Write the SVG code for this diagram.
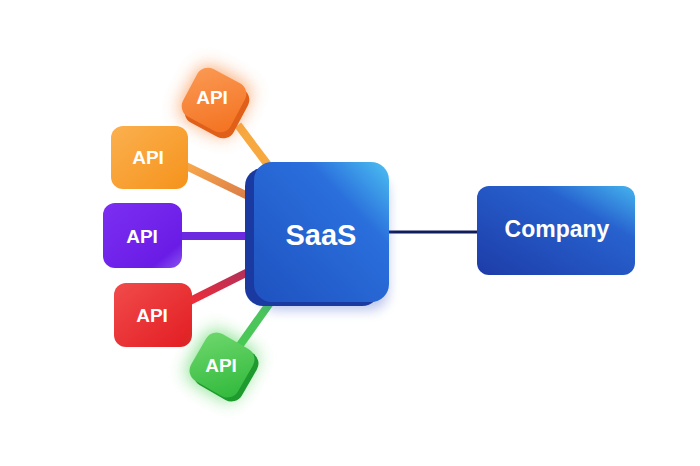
<svg xmlns="http://www.w3.org/2000/svg" width="700" height="466" viewBox="0 0 700 466">
  <defs>
    <style>
      .lbl { font-family: "Liberation Sans", Arial, sans-serif; font-weight: bold; fill: #ffffff; text-anchor: middle; dominant-baseline: central; }
      .api { font-size: 19px; }
      .conn { fill: none; stroke-linecap: butt; }
    </style>
    <linearGradient id="gOrange" x1="0" y1="0" x2="1" y2="1">
      <stop offset="0" stop-color="#fbb04f"/>
      <stop offset="1" stop-color="#f5931c"/>
    </linearGradient>
    <linearGradient id="gOrange2" x1="0" y1="0" x2="1" y2="1">
      <stop offset="0" stop-color="#fb9a55"/>
      <stop offset="1" stop-color="#f3711f"/>
    </linearGradient>
    <linearGradient id="gPurple" x1="0" y1="0" x2="1" y2="1">
      <stop offset="0" stop-color="#7c2ff2"/>
      <stop offset="0.8" stop-color="#6a1ce6"/>
      <stop offset="1" stop-color="#8a55f0"/>
    </linearGradient>
    <linearGradient id="gRed" x1="0" y1="0" x2="1" y2="1">
      <stop offset="0" stop-color="#f14b4b"/>
      <stop offset="1" stop-color="#e21d22"/>
    </linearGradient>
    <linearGradient id="gGreen" x1="0" y1="0" x2="1" y2="1">
      <stop offset="0" stop-color="#6fd86e"/>
      <stop offset="1" stop-color="#2fb83a"/>
    </linearGradient>
    <linearGradient id="gBlue" x1="0" y1="1" x2="1" y2="0">
      <stop offset="0" stop-color="#1e52c0"/>
      <stop offset="0.7" stop-color="#2a6fdc"/>
      <stop offset="1" stop-color="#4cc0f2"/>
    </linearGradient>
    <linearGradient id="gCompany" x1="0" y1="1" x2="1" y2="0">
      <stop offset="0" stop-color="#1d3ca8"/>
      <stop offset="0.7" stop-color="#2762cf"/>
      <stop offset="1" stop-color="#45b4ee"/>
    </linearGradient>
    <linearGradient id="lOrange" x1="0" y1="0" x2="1" y2="1">
      <stop offset="0" stop-color="#f7a84a"/>
      <stop offset="1" stop-color="#d97a4a"/>
    </linearGradient>
    <linearGradient id="lRed" x1="0" y1="1" x2="1" y2="0">
      <stop offset="0" stop-color="#ee2d3a"/>
      <stop offset="1" stop-color="#b0305a"/>
    </linearGradient>
    <filter id="glow" x="-60%" y="-60%" width="220%" height="220%">
      <feGaussianBlur stdDeviation="9"/>
    </filter>
    <filter id="shadow" x="-30%" y="-30%" width="160%" height="160%">
      <feGaussianBlur stdDeviation="6"/>
    </filter>
  </defs>

  <rect width="700" height="466" fill="#ffffff"/>

  <g id="connectors">
    <line class="conn" x1="238" y1="125" x2="268" y2="165" stroke="#f7a940" stroke-width="8"/>
    <line class="conn" x1="186" y1="166" x2="252" y2="198" stroke="url(#lOrange)" stroke-width="8"/>
    <line class="conn" x1="180" y1="236" x2="252" y2="236" stroke="#6b2adf" stroke-width="8"/>
    <line class="conn" x1="190" y1="301" x2="250" y2="271" stroke="url(#lRed)" stroke-width="8"/>
    <line class="conn" x1="240" y1="345" x2="272" y2="300" stroke="#4cc65a" stroke-width="8"/>
    <line class="conn" x1="386" y1="232" x2="480" y2="232" stroke="#101c5c" stroke-width="3"/>
  </g>

  <g id="api-top">
    <rect x="186" y="72" width="58" height="58" rx="13" fill="#f7863a" opacity="0.75" filter="url(#glow)" transform="rotate(28 215 101)"/>
    <rect x="190" y="79" width="54" height="54" rx="12" fill="#e0601a" transform="rotate(28 217 106)"/>
    <rect x="187" y="73" width="54" height="54" rx="12" fill="url(#gOrange2)" transform="rotate(28 214 100)"/>
    <text class="lbl api" x="212" y="97">API</text>
  </g>

  <g id="api-orange">
    <rect x="111" y="126" width="77" height="63" rx="12" fill="url(#gOrange)"/>
    <text class="lbl api" x="148" y="157">API</text>
  </g>

  <g id="api-purple">
    <rect x="103" y="203" width="79" height="65" rx="12" fill="url(#gPurple)"/>
    <text class="lbl api" x="142" y="236">API</text>
  </g>

  <g id="api-red">
    <rect x="114" y="283" width="78" height="64" rx="12" fill="url(#gRed)"/>
    <text class="lbl api" x="152" y="315">API</text>
  </g>

  <g id="api-green">
    <rect x="193" y="336" width="58" height="58" rx="13" fill="#3fd04a" opacity="0.65" filter="url(#glow)" transform="rotate(30 222 365)"/>
    <rect x="199" y="342" width="54" height="54" rx="12" fill="#1f9a2e" transform="rotate(30 226 369)"/>
    <rect x="195" y="338" width="54" height="54" rx="12" fill="url(#gGreen)" transform="rotate(30 222 365)"/>
    <text class="lbl api" x="221" y="365">API</text>
  </g>

  <g id="saas">
    <rect x="258" y="175" width="130" height="135" rx="18" fill="#3a5ac8" opacity="0.35" filter="url(#shadow)"/>
    <rect x="245" y="168" width="135" height="138" rx="18" fill="#1a3aa2"/>
    <rect x="254" y="162" width="135" height="140" rx="18" fill="url(#gBlue)"/>
    <text class="lbl" x="321" y="235" font-size="29">SaaS</text>
  </g>

  <g id="company">
    <rect x="477" y="186" width="158" height="89" rx="12" fill="url(#gCompany)"/>
    <text class="lbl" x="557" y="229" font-size="23">Company</text>
  </g>
</svg>
